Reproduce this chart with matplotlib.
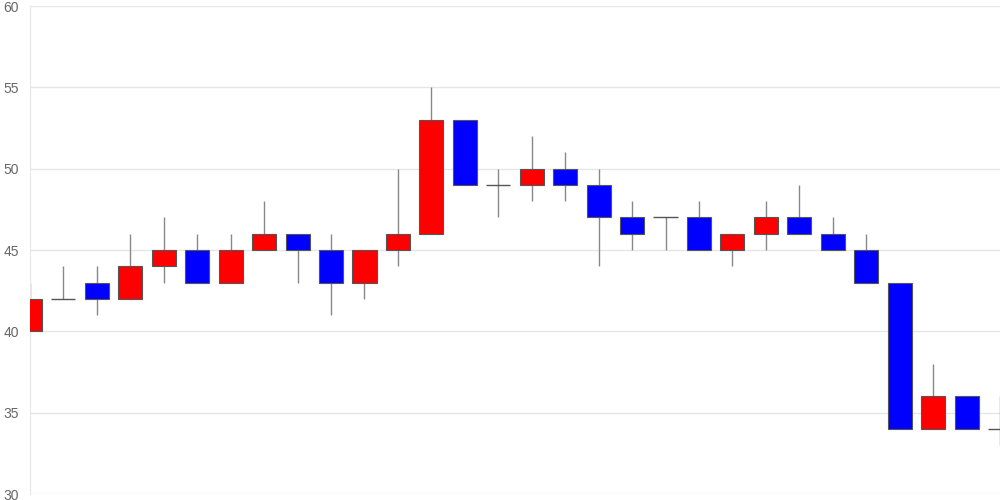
import matplotlib
matplotlib.use("Agg")
import matplotlib.pyplot as plt
import numpy as np

plt.rcParams['font.family'] = ['Liberation Sans', 'DejaVu Sans']

# daily candles (open, high, low, close)
opens  = [40, 42, 43, 42, 44, 45, 43, 45, 46, 45, 43, 45, 46, 53, 49,
          49, 50, 49, 47, 47, 47, 45, 46, 47, 46, 45, 43, 34, 36, 34]
highs  = [43, 44, 44, 46, 47, 46, 46, 48, 46, 46, 45, 50, 55, 53, 50,
          52, 51, 50, 48, 47, 48, 46, 48, 49, 47, 46, 43, 38, 36, 36]
lows   = [40, 42, 41, 42, 43, 43, 43, 45, 43, 41, 42, 44, 46, 49, 47,
          48, 48, 44, 45, 45, 45, 44, 45, 46, 45, 43, 34, 34, 34, 33]
closes = [42, 42, 42, 44, 45, 43, 45, 46, 45, 43, 45, 46, 53, 49, 49,
          50, 49, 47, 46, 47, 45, 46, 47, 46, 45, 43, 34, 36, 34, 34]

yticks = [30, 35, 40, 45, 50, 55, 60]

fig = plt.figure(figsize=(10, 5), dpi=100)
ax = fig.add_axes([0.03, 0.012, 0.97, 0.976])

BODY_W = 0.72
for i in range(len(opens)):
    o, h, l, c = opens[i], highs[i], lows[i], closes[i]
    ax.vlines(i, l, h, color='#888888', linewidth=1, zorder=2)
    if c > o:
        col = '#ff0000'
    elif c < o:
        col = '#0000ff'
    else:
        col = None
    if col is None:
        ax.hlines(o, i - BODY_W / 2, i + BODY_W / 2, color='#555555', linewidth=1, zorder=3)
    else:
        ax.bar(i, abs(c - o), bottom=min(o, c), width=BODY_W, color=col,
               edgecolor='#555555', linewidth=0.8, zorder=3)

ax.set_xlim(0, len(opens) - 1)
ax.set_ylim(30, 60)
ax.set_yticks(yticks)
ax.set_xticks([])
ax.grid(axis='y', color='#e6e6e6', linewidth=1, zorder=0)
ax.set_axisbelow(True)
for s in ['top', 'right', 'bottom']:
    ax.spines[s].set_visible(False)
ax.spines['left'].set_color('#e6e6e6')
ax.tick_params(axis='y', length=0, pad=8, labelsize=10, labelcolor='#666666')

fig.savefig('out.png', dpi=100)
